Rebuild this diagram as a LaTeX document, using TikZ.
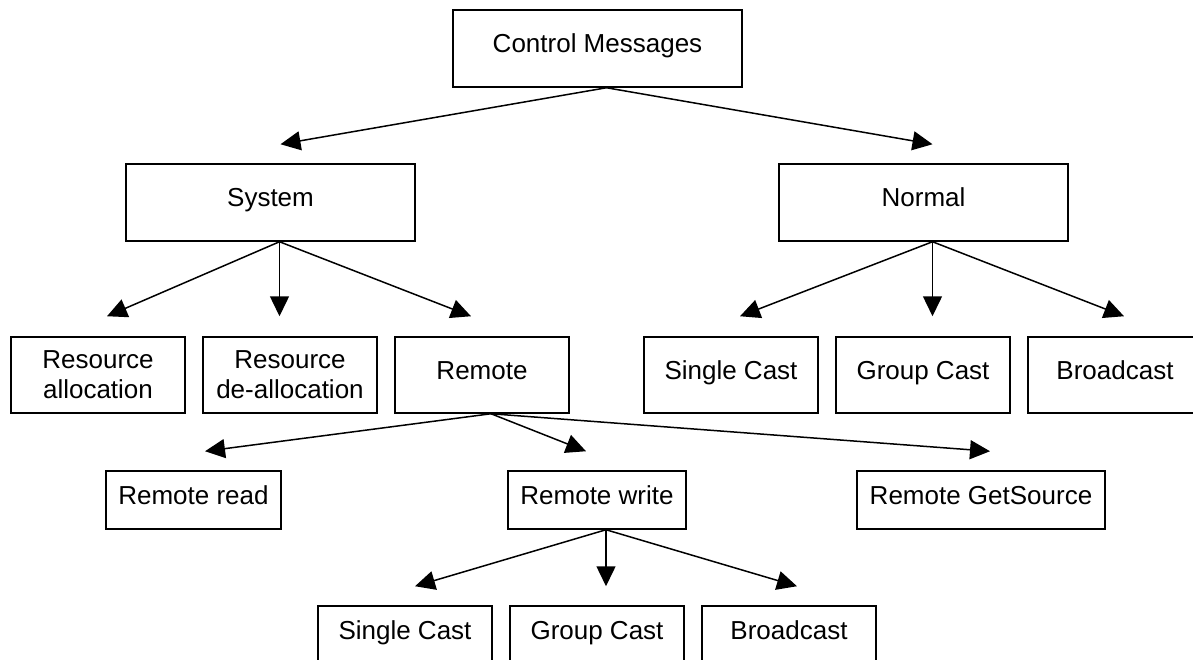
\documentclass[tikz,border=0pt]{standalone}
\usepackage{fontspec}
\setmainfont{Liberation Sans}
\usetikzlibrary{arrows.meta}

\begin{document}
\begin{tikzpicture}[x=1pt, y=-1pt,
    box/.style={draw, line width=1.5pt, inner sep=0pt, font=\fontsize{26}{30}\selectfont},
    oneline/.style={text height=18.6pt, text depth=10pt},
    headbox/.style={box, oneline, minimum width=289pt, minimum height=77pt},
    leafbox/.style={box, minimum width=174pt, minimum height=76pt},
    slimbox/.style={box, oneline, minimum height=58pt, inner xsep=12.5pt},
    lowbox/.style={box, oneline, minimum width=174pt, minimum height=58pt},
    link/.style={line width=1.5pt, -{Triangle[length=20pt, width=19pt]}}]
  \useasboundingbox (0,0) rectangle (1193,660);
  \clip (0,0) rectangle (1193,660);
  \fill[white] (0,0) rectangle (1193,660);

  % top levels
  \node[headbox] (cm)  at (597.5,48.5)  {Control Messages};
  \node[headbox] (sys) at (270.5,202.5) {System};
  \node[headbox] (nrm) at (923.5,202.5) {Normal};

  % system side
  \node[leafbox, align=center] (ralloc)   at (98,375)  {Resource\\allocation};
  \node[leafbox, align=center] (rdealloc) at (290,375) {Resource\\de-allocation};
  \node[leafbox, oneline]      (remote)   at (482,375) {Remote};

  % normal side
  \node[leafbox, oneline] (nsingle) at (731,375)  {Single Cast};
  \node[leafbox, oneline] (ngroup)  at (923,375)  {Group Cast};
  \node[leafbox, oneline] (nbcast)  at (1115,375) {Broadcast};

  % remote
  \node[slimbox] (rread)  at (193.5,500) {Remote read};
  \node[slimbox] (rwrite) at (597,500)   {Remote write};
  \node[slimbox] (rget)   at (981,500)   {Remote GetSource};

  % remote write
  \node[lowbox] (wsingle) at (405,635) {Single Cast};
  \node[lowbox] (wgroup)  at (597,635) {Group Cast};
  \node[lowbox] (wbcast)  at (789,635) {Broadcast};

  \draw[link] ([xshift=9pt]cm.south) -- ([xshift=10pt, yshift=19pt]sys.north);
  \draw[link] ([xshift=9pt]cm.south) -- ([xshift=9pt, yshift=19pt]nrm.north);
  \foreach \n/\dx in {ralloc/9, rdealloc/-10.5, remote/-11}
    \draw[link] ([xshift=9pt]sys.south) -- ([xshift=\dx pt, yshift=20pt]\n.north);
  \foreach \n/\dx in {nsingle/9, ngroup/9.5, nbcast/9}
    \draw[link] ([xshift=9pt]nrm.south) -- ([xshift=\dx pt, yshift=20pt]\n.north);
  \foreach \n/\dx in {rread/11.5, rwrite/-11, rget/9}
    \draw[link] ([xshift=9pt]remote.south) -- ([xshift=\dx pt, yshift=19pt]\n.north);
  \foreach \n/\dx in {wsingle/10, wgroup/9, wbcast/8}
    \draw[link] ([xshift=9pt]rwrite.south) -- ([xshift=\dx pt, yshift=19pt]\n.north);
\end{tikzpicture}
\end{document}
